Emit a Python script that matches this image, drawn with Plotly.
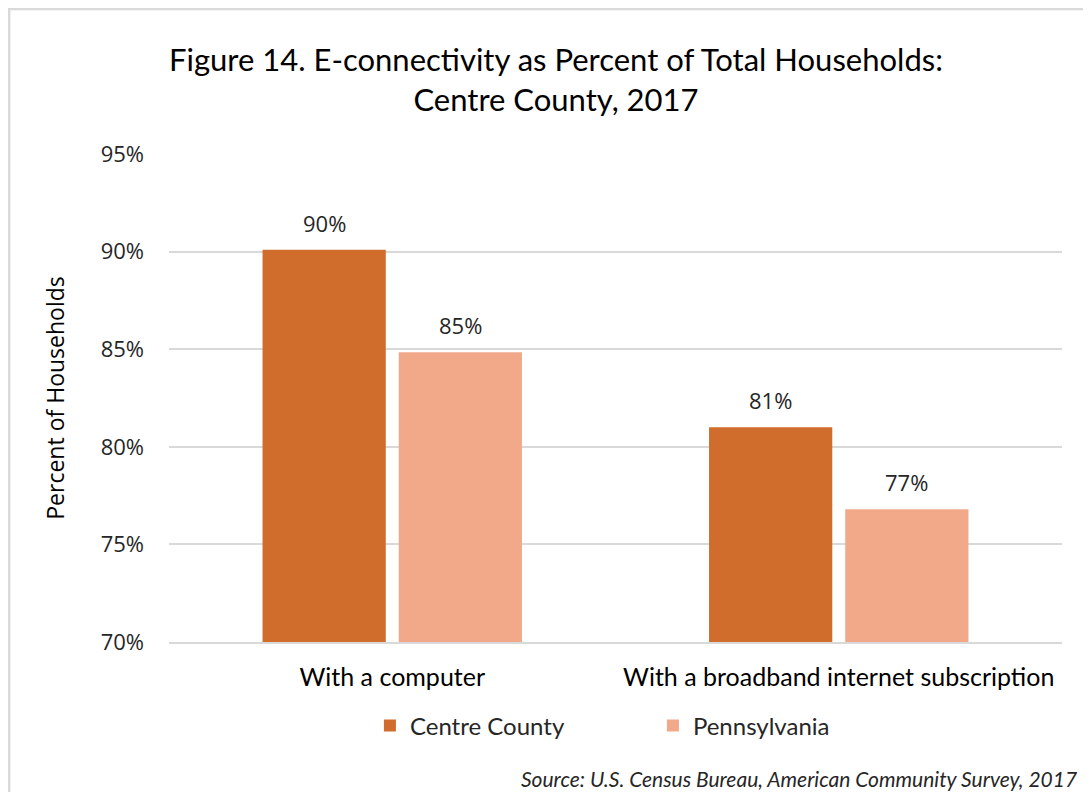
import plotly.graph_objects as go

categories = ["With a computer", "With a broadband internet subscription"]
series_names = ["Centre County", "Pennsylvania"]
centre_values = [90.1, 81.0]
penn_values = [84.85, 76.8]
label_centre = ["90%", "81%"]
label_penn = ["85%", "77%"]
tick_vals = [70, 75, 80, 85, 90, 95]
tick_text = ["70%", "75%", "80%", "85%", "90%", "95%"]

colors = ["#D16D2C", "#F1A98A"]
seg = "Open Sans, Segoe UI, sans-serif"
cal = "Lato, Calibri, sans-serif"

fig = go.Figure()
fig.add_trace(go.Bar(x=categories, y=centre_values, name=series_names[0],
                     marker=dict(color=colors[0], line=dict(width=0))))
fig.add_trace(go.Bar(x=categories, y=penn_values, name=series_names[1],
                     marker=dict(color=colors[1], line=dict(width=0))))

for vals, labels, shift in [(centre_values, label_centre, -68), (penn_values, label_penn, 68)]:
    for c, v, t in zip(categories, vals, labels):
        fig.add_annotation(x=c, y=v, text=t, showarrow=False, xshift=shift, yshift=27,
                           yanchor="middle", font=dict(family=seg, size=22, color="#262626"))

fig.add_annotation(xref="paper", yref="paper", x=1.019, y=-0.279, xanchor="right", yanchor="middle",
                   text="<i>Source: U.S. Census Bureau, American Community Survey, 2017</i>",
                   showarrow=False, font=dict(family=cal, size=21, color="#262626"))

fig.add_shape(type="rect", xref="paper", yref="paper", x0=-0.179, y0=-1.0, x1=1.5, y1=1.297,
              line=dict(color="#d9d9d9", width=2.5), fillcolor="rgba(0,0,0,0)", layer="below")

fig.update_layout(
    width=1083, height=784,
    margin=dict(l=161, r=29, t=146, b=150, autoexpand=False),
    paper_bgcolor="white", plot_bgcolor="white",
    barmode="group", bargap=0.39, bargroupgap=0.095,
    title=dict(text="Figure 14. E-connectivity as Percent of Total Households:<br>Centre County, 2017",
               x=0.506, xanchor="center", y=1 - 63 / 784, yanchor="middle",
               font=dict(family=cal, size=31, color="#000000")),
    showlegend=True,
    legend=dict(orientation="h", x=0.225, xanchor="left", y=-0.172, yanchor="middle",
                font=dict(family=cal, size=24, color="#262626"),
                entrywidth=238, entrywidthmode="pixels", itemwidth=30,
                bgcolor="rgba(0,0,0,0)"),
    yaxis=dict(range=[70, 95], tickvals=tick_vals, ticktext=tick_text,
               showgrid=True, gridcolor="#d9d9d9", gridwidth=1.5,
               zeroline=False, showline=False, ticks="", ticklabelstandoff=24,
               tickfont=dict(family=seg, size=22, color="#262626"),
               title=dict(text="Percent of Households", standoff=29,
                          font=dict(family=seg, size=23, color="#000000"))),
    xaxis=dict(showline=True, linecolor="#d9d9d9", linewidth=1.5, ticks="",
               ticklabelstandoff=12,
               tickfont=dict(family=cal, size=25, color="#000000")),
)

fig.write_html("out.html")
